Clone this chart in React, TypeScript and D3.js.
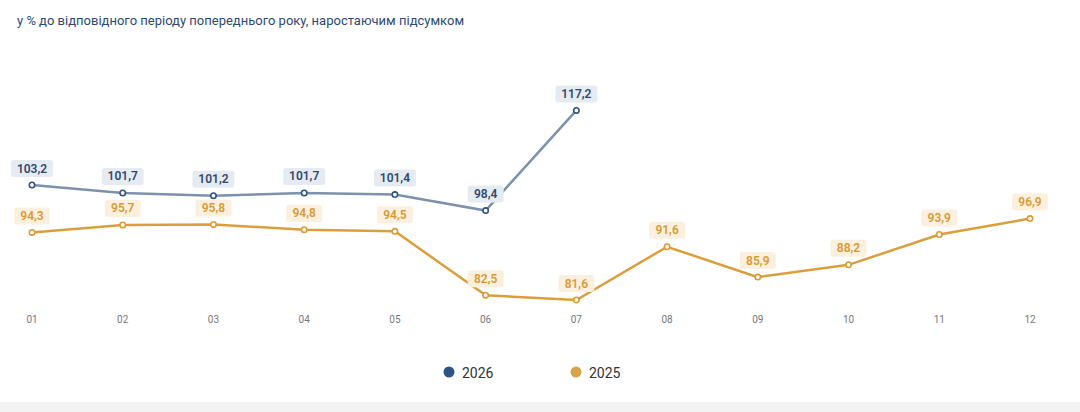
import React from "react";
import * as d3 from "d3";

const months = ["01","02","03","04","05","06","07","08","09","10","11","12"];
const s2026 = [103.2,101.7,101.2,101.7,101.4,98.4,117.2];
const s2025 = [94.3,95.7,95.8,94.8,94.5,82.5,81.6,91.6,85.9,88.2,93.9,96.9];
const title = "у % до відповідного періоду попереднього року, наростаючим підсумком";

export default function App() {
  const W = 1080, H = 412;
  const x = d3.scalePoint<string>().domain(months).range([32, 1030]);
  const y = d3.scaleLinear().domain([81.6, 103.2]).range([300, 185]);
  const line = d3.line<number>().x((_, i) => x(months[i])!).y(v => y(v));
  const fmt = (v: number) => v.toFixed(1).replace(".", ",");
  const series = [
    { data: s2026, line: "#7c91ab", dot: "#2f5484", box: "#e6ebf2", text: "#2f4a70" },
    { data: s2025, line: "#dc9e3c", dot: "#d99a36", box: "#fbf0de", text: "#d99a36" },
  ];
  return (
    <svg width={W} height={H} style={{ position: "absolute", left: 0, top: 0, fontFamily: "Roboto, Arial, sans-serif" }}>
      <rect width={W} height={H} fill="#fff" />
      <rect x={0} y={402} width={W} height={10} fill="#f3f3f3" />
      <text x={17} y={25} fontSize={13} fill="#2c4a73">{title}</text>
      {series.map((s, k) => (
        <g key={k}>
          <path d={line(s.data)!} fill="none" stroke={s.line} strokeWidth={2.5} />
          {s.data.map((v, i) => {
            const px = x(months[i])!, py = y(v);
            const w = fmt(v).length > 4 ? 42 : 36;
            return (
              <g key={i}>
                <circle cx={px} cy={py} r={2.7} fill="#fff" stroke={s.dot} strokeWidth={1.6} />
                <rect x={px - w / 2} y={py - 25} width={w} height={17} rx={3} fill={s.box} />
                <text x={px} y={py - 12.5} textAnchor="middle" fontSize={12} fontWeight={600} fill={s.text}>{fmt(v)}</text>
              </g>
            );
          })}
        </g>
      ))}
      {months.map(m => (
        <text key={m} x={x(m)} y={323} textAnchor="middle" fontSize={10} fill="#777">{m}</text>
      ))}
      <circle cx={449} cy={372} r={5.5} fill="#2f5484" />
      <text x={462} y={378} fontSize={14} fill="#333">2026</text>
      <circle cx={576} cy={372} r={5.5} fill="#dba24e" />
      <text x={589} y={378} fontSize={14} fill="#333">2025</text>
    </svg>
  );
}
